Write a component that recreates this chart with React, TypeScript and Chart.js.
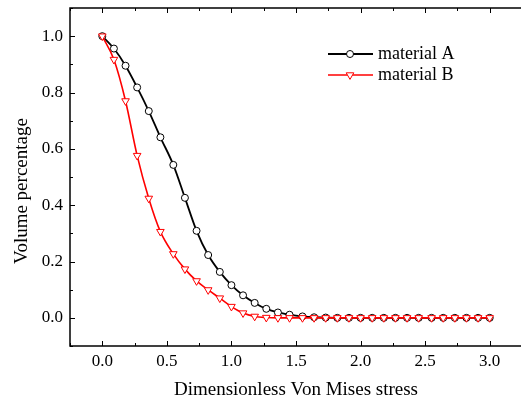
import React, { useEffect, useRef } from "react";
import { Chart, registerables } from "chart.js";

Chart.register(...registerables);

const X_VALUES = [0, 0.09, 0.18, 0.27, 0.36, 0.45, 0.55, 0.64, 0.73, 0.82, 0.91, 1.0, 1.09, 1.18, 1.27, 1.36, 1.45, 1.55, 1.64, 1.73, 1.82, 1.91, 2.0, 2.09, 2.18, 2.27, 2.36, 2.45, 2.55, 2.64, 2.73, 2.82, 2.91, 3.0];
const MATERIAL_A = [1.0, 0.956, 0.895, 0.818, 0.734, 0.641, 0.543, 0.426, 0.309, 0.223, 0.163, 0.116, 0.08, 0.053, 0.032, 0.019, 0.011, 0.005, 0.002, 0.001, 0, 0, 0, 0, 0, 0, 0, 0, 0, 0, 0, 0, 0, 0];
const MATERIAL_B = [1.0, 0.917, 0.77, 0.576, 0.424, 0.306, 0.227, 0.173, 0.131, 0.099, 0.07, 0.04, 0.017, 0.005, 0.001, 0, 0, 0, 0, 0, 0, 0, 0, 0, 0, 0, 0, 0, 0, 0, 0, 0, 0, 0];
const X_TICKS = [0, 0.5, 1.0, 1.5, 2.0, 2.5, 3.0];
const Y_TICKS = [0, 0.2, 0.4, 0.6, 0.8, 1.0];
const X_MINOR = [-0.25, 0.25, 0.75, 1.25, 1.75, 2.25, 2.75, 3.25];
const Y_MINOR = [-0.1, 0.1, 0.3, 0.5, 0.7, 0.9, 1.1];
const LABEL_A = "material A";
const LABEL_B = "material B";
const X_TITLE = "Dimensionless Von Mises stress";
const Y_TITLE = "Volume percentage";

const FONT = "'Liberation Serif', 'Times New Roman', serif";

function drawMarker(ctx: CanvasRenderingContext2D, style: string, x: number, y: number, r: number, stroke: string) {
  ctx.save();
  ctx.fillStyle = "#fff";
  ctx.strokeStyle = stroke;
  ctx.lineWidth = 1;
  ctx.beginPath();
  if (style === "circle") {
    ctx.arc(x, y, r, 0, Math.PI * 2);
  } else {
    const a = r * Math.sqrt(3) / 2;
    ctx.moveTo(x - a, y - r / 2);
    ctx.lineTo(x + a, y - r / 2);
    ctx.lineTo(x, y + r);
    ctx.closePath();
  }
  ctx.fill();
  ctx.stroke();
  ctx.restore();
}

const framePlugin = {
  id: "originFrame",
  afterDraw(chart: any) {
    const { ctx, chartArea: ca, scales } = chart;
    const xs = scales.x;
    const ys = scales.y;
    ctx.save();
    ctx.strokeStyle = "#000";
    ctx.lineWidth = 1.5;
    ctx.strokeRect(ca.left, ca.top, ca.right - ca.left, ca.bottom - ca.top);
    ctx.lineWidth = 1;
    ctx.beginPath();
    X_TICKS.forEach((v) => {
      const px = Math.round(xs.getPixelForValue(v)) + 0.5;
      ctx.moveTo(px, ca.bottom); ctx.lineTo(px, ca.bottom - 5);
      ctx.moveTo(px, ca.top); ctx.lineTo(px, ca.top + 5);
    });
    X_MINOR.forEach((v) => {
      const px = Math.round(xs.getPixelForValue(v)) + 0.5;
      ctx.moveTo(px, ca.bottom); ctx.lineTo(px, ca.bottom - 3);
      ctx.moveTo(px, ca.top); ctx.lineTo(px, ca.top + 3);
    });
    Y_TICKS.forEach((v) => {
      const py = Math.round(ys.getPixelForValue(v)) + 0.5;
      ctx.moveTo(ca.left, py); ctx.lineTo(ca.left + 5, py);
    });
    Y_MINOR.forEach((v) => {
      const py = Math.round(ys.getPixelForValue(v)) + 0.5;
      ctx.moveTo(ca.left, py); ctx.lineTo(ca.left + 3, py);
    });
    ctx.stroke();

    ctx.fillStyle = "#000";
    ctx.font = `19px ${FONT}`;
    ctx.textAlign = "center";
    ctx.textBaseline = "middle";
    ctx.fillText(X_TITLE, (ca.left + ca.right) / 2, 390);
    ctx.save();
    ctx.translate(22, 191);
    ctx.rotate(-Math.PI / 2);
    ctx.fillText(Y_TITLE, 0, 0);
    ctx.restore();

    const items = [
      { ds: chart.data.datasets[0], y: 54, style: "circle", r: 3.5 },
      { ds: chart.data.datasets[1], y: 75, style: "triangle", r: 4.4 },
    ];
    ctx.font = `18px ${FONT}`;
    ctx.textAlign = "left";
    items.forEach((it) => {
      ctx.strokeStyle = it.ds.borderColor;
      ctx.lineWidth = it.ds.borderWidth;
      ctx.beginPath();
      ctx.moveTo(328, it.y); ctx.lineTo(373, it.y);
      ctx.stroke();
      drawMarker(ctx, it.style, 350, it.y, it.r, it.ds.borderColor);
      ctx.fillStyle = "#000";
      ctx.fillText(it.ds.label, 378, it.y);
    });
    ctx.restore();
  },
};

function zeroPadding(s: any) {
  s.paddingTop = 0;
  s.paddingBottom = 0;
  s.paddingLeft = 0;
  s.paddingRight = 0;
}

export default function App() {
  const ref = useRef<HTMLCanvasElement | null>(null);
  useEffect(() => {
    if (!ref.current) return;
    const tickFont = { family: FONT, size: 17 };
    const chart = new Chart(ref.current, {
      type: "line",
      data: {
        datasets: [
          {
            label: LABEL_A,
            data: X_VALUES.map((x, i) => ({ x, y: MATERIAL_A[i] })),
            borderColor: "#000000",
            backgroundColor: "#ffffff",
            borderWidth: 1.8,
            pointStyle: "circle",
            pointRadius: 3.5,
            pointBorderWidth: 1,
            pointBackgroundColor: "#ffffff",
            pointBorderColor: "#000000",
            cubicInterpolationMode: "monotone",
            order: 2,
          },
          {
            label: LABEL_B,
            data: X_VALUES.map((x, i) => ({ x, y: MATERIAL_B[i] })),
            borderColor: "#ff0000",
            backgroundColor: "#ffffff",
            borderWidth: 1.6,
            pointStyle: "triangle",
            pointRotation: 180,
            pointRadius: 4.4,
            pointBorderWidth: 1,
            pointBackgroundColor: "#ffffff",
            pointBorderColor: "#ff0000",
            cubicInterpolationMode: "monotone",
            order: 1,
          },
        ],
      },
      options: {
        animation: false,
        responsive: false,
        events: [],
        layout: { padding: { top: 8, right: 8, left: 0, bottom: 0 } },
        plugins: { legend: { display: false }, tooltip: { enabled: false } },
        scales: {
          x: {
            type: "linear",
            min: -0.25,
            max: 3.25,
            grid: { display: false, drawTicks: false },
            border: { display: false },
            afterBuildTicks: (s: any) => { s.ticks = X_TICKS.map((v) => ({ value: v })); },
            afterFit: (s: any) => { s.height = 58; zeroPadding(s); },
            ticks: {
              color: "#000",
              font: tickFont,
              padding: 5,
              maxRotation: 0,
              autoSkip: false,
              callback: (v: any) => Number(v).toFixed(1),
            },
          },
          y: {
            type: "linear",
            min: -0.1,
            max: 1.1,
            grid: { display: false, drawTicks: false },
            border: { display: false },
            afterBuildTicks: (s: any) => { s.ticks = Y_TICKS.map((v) => ({ value: v })); },
            afterFit: (s: any) => { s.width = 70; zeroPadding(s); },
            ticks: {
              color: "#000",
              font: tickFont,
              padding: 7,
              autoSkip: false,
              callback: (v: any) => Number(v).toFixed(1),
            },
          },
        },
      },
      plugins: [framePlugin],
    } as any);
    return () => chart.destroy();
  }, []);
  return (
    <div style={{ position: "absolute", left: 0, top: 0, width: 521, height: 404, overflow: "hidden", background: "#fff" }}>
      <canvas ref={ref} width={530} height={404} style={{ display: "block", width: 530, height: 404 }} />
    </div>
  );
}
